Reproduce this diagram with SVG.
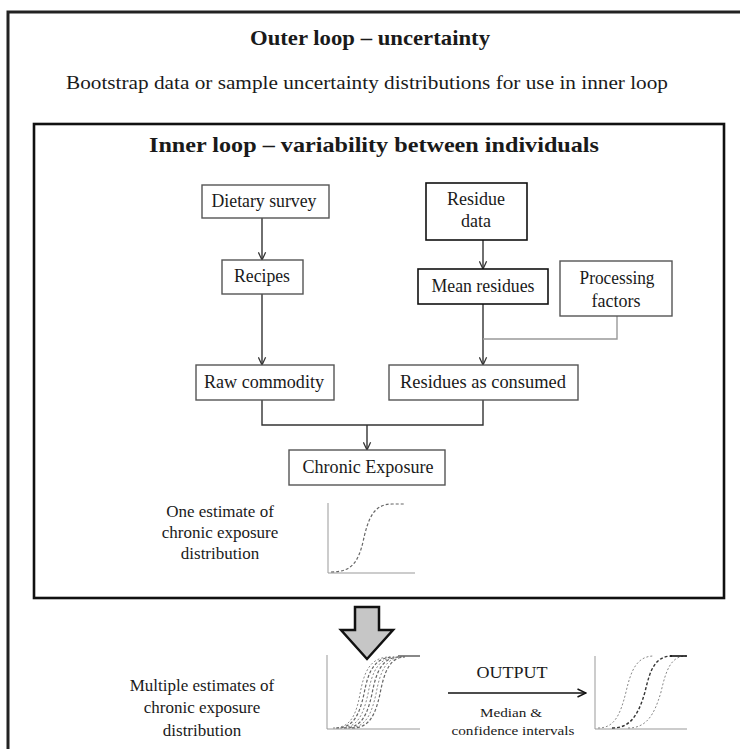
<svg xmlns="http://www.w3.org/2000/svg" width="740" height="749" viewBox="0 0 740 749">
<defs>
<marker id="v" viewBox="0 0 10 10" refX="9.5" refY="5" markerWidth="9" markerHeight="9" markerUnits="userSpaceOnUse" orient="auto">
<path d="M1,1 L9.5,5 L1,9" fill="none" stroke="#333" stroke-width="1.4"/>
</marker>
<marker id="vb" viewBox="0 0 10 10" refX="9.5" refY="5" markerWidth="10" markerHeight="10" markerUnits="userSpaceOnUse" orient="auto">
<path d="M1,1 L9.5,5 L1,9" fill="none" stroke="#111" stroke-width="1.5"/>
</marker>
</defs>
<style>
text{font-family:"Liberation Serif","Times New Roman",serif;fill:#1a1a1a;text-anchor:middle}
.t{font-size:18px}
.s{font-size:17px}
.box{fill:#fff;stroke:#555;stroke-width:1.4}
.dark{stroke:#111;stroke-width:1.6}
.c{fill:none;stroke:#333;stroke-width:1.4}
.ax{fill:none;stroke:#999;stroke-width:1}
.cv{fill:none;stroke:#666;stroke-width:1.2;stroke-dasharray:3 2}
.cl{fill:none;stroke:#888;stroke-width:1;stroke-dasharray:2 2}
.cd{fill:none;stroke:#333;stroke-width:1.4;stroke-dasharray:3 2}
</style>
<rect width="740" height="749" fill="#fff"/>
<rect id="outer" x="8" y="12" width="750" height="760" fill="none" stroke="#222" stroke-width="3"/>
<text x="370" y="45" font-size="22" font-weight="bold" textLength="240" lengthAdjust="spacingAndGlyphs">Outer loop – uncertainty</text>
<text x="367" y="89" font-size="19" textLength="602" lengthAdjust="spacingAndGlyphs">Bootstrap data or sample uncertainty distributions for use in inner loop</text>
<rect id="inner" x="34" y="124" width="690" height="474" fill="none" stroke="#111" stroke-width="2.6"/>
<text x="374" y="152" font-size="21" font-weight="bold" textLength="450" lengthAdjust="spacingAndGlyphs">Inner loop – variability between individuals</text>
<g id="connectors">
<line class="c" x1="262" y1="218" x2="262" y2="260" marker-end="url(#v)"/>
<line class="c" x1="262" y1="294" x2="262" y2="365" marker-end="url(#v)"/>
<line class="c" x1="483" y1="240" x2="483" y2="269" marker-end="url(#v)"/>
<line class="c" x1="483" y1="304" x2="483" y2="365" marker-end="url(#v)"/>
<polyline fill="none" stroke="#999" stroke-width="1.4" points="617,316 617,339 483,339"/>
<polyline class="c" points="262,400 262,425 483,425 483,400"/>
<line class="c" x1="367" y1="425" x2="367" y2="450" marker-end="url(#v)"/>
</g>
<g id="dietary"><rect class="box" x="202" y="185" width="127" height="33"/><text class="t" x="264" y="207" textLength="105" lengthAdjust="spacingAndGlyphs">Dietary survey</text></g>
<g id="recipes"><rect class="box" x="222" y="260" width="81" height="34"/><text class="t" x="262" y="282" textLength="56" lengthAdjust="spacingAndGlyphs">Recipes</text></g>
<g id="residue"><rect class="box dark" x="426" y="183" width="101" height="57"/><text class="t" x="476" y="205">Residue</text><text class="t" x="476" y="227">data</text></g>
<g id="mean"><rect class="box dark" x="418" y="269" width="130" height="35"/><text class="t" x="483" y="292" textLength="103" lengthAdjust="spacingAndGlyphs">Mean residues</text></g>
<g id="processing"><rect class="box" x="560" y="261" width="112" height="55"/><text class="t" x="617" y="284" textLength="75" lengthAdjust="spacingAndGlyphs">Processing</text><text class="t" x="616" y="307" textLength="49" lengthAdjust="spacingAndGlyphs">factors</text></g>
<g id="raw"><rect class="box" x="196" y="365" width="138" height="35"/><text class="t" x="264" y="388" textLength="120" lengthAdjust="spacingAndGlyphs">Raw commodity</text></g>
<g id="consumed"><rect class="box" x="389" y="365" width="189" height="35"/><text class="t" x="483" y="388" textLength="166" lengthAdjust="spacingAndGlyphs">Residues as consumed</text></g>
<g id="chronic"><rect class="box" x="289" y="450" width="156" height="35" stroke="#333"/><text class="t" x="368" y="473" textLength="131" lengthAdjust="spacingAndGlyphs">Chronic Exposure</text></g>
<g id="one-estimate">
<text class="s" x="220" y="517">One estimate of</text>
<text class="s" x="220" y="538">chronic exposure</text>
<text class="s" x="220" y="559">distribution</text>
<polyline class="ax" points="328,503 328,573 415,573"/>
<path class="cv" d="M331,572 C352,572 358,562 363,542 C368,518 374,504 392,504 L404,504"/>
</g>
<g id="big-arrow"><polygon points="355,607 379,607 379,630 393,630 367,659 341,630 355,630" fill="#c6c6c6" stroke="#111" stroke-width="2.5" stroke-linejoin="miter"/></g>
<g id="multiple">
<text class="s" x="202" y="691">Multiple estimates of</text>
<text class="s" x="202" y="713">chronic exposure</text>
<text class="s" x="202" y="736">distribution</text>
<polyline class="ax" points="327,655 327,729 420,729"/>
<path class="cl" d="M333,728 C350,728 356,716 360,694 C364,672 370,657 390,657"/>
<path class="cv" d="M336,728 C353,728 359,716 364,694 C368,672 374,657 394,657"/>
<path class="cl" d="M340,728 C357,728 363,716 368,694 C372,672 378,657 398,657"/>
<path class="cv" d="M344,728 C361,728 367,716 372,694 C376,672 382,657 400,657"/>
<path class="cl" d="M348,728 C365,728 371,716 376,694 C380,672 386,657 402,657"/>
<path class="cv" d="M352,728 C369,728 375,716 380,694 C384,672 390,657 405,657"/>
<line x1="398" y1="656" x2="420" y2="656" stroke="#555" stroke-width="1.4"/>
</g>
<g id="output">
<text x="512" y="678" font-size="16" textLength="71" lengthAdjust="spacingAndGlyphs">OUTPUT</text>
<line x1="448" y1="693" x2="586" y2="693" stroke="#111" stroke-width="1.5" marker-end="url(#vb)"/>
<text x="511" y="717" font-size="13.5" textLength="62" lengthAdjust="spacingAndGlyphs">Median &amp;</text>
<text x="513" y="735" font-size="13.5" textLength="123" lengthAdjust="spacingAndGlyphs">confidence intervals</text>
</g>
<g id="summary">
<polyline class="ax" points="595,656 595,729 687,729"/>
<path class="cl" d="M598,728 C614,728 620,716 626,692 C631,670 637,656 654,656"/>
<path class="cd" d="M612,728 C630,728 638,716 645,692 C650,670 655,656 672,656"/>
<path class="cl" d="M628,728 C646,728 654,716 661,692 C666,670 671,656 686,656"/>
<line x1="670" y1="656" x2="687" y2="656" stroke="#111" stroke-width="1.6"/>
</g>
</svg>
